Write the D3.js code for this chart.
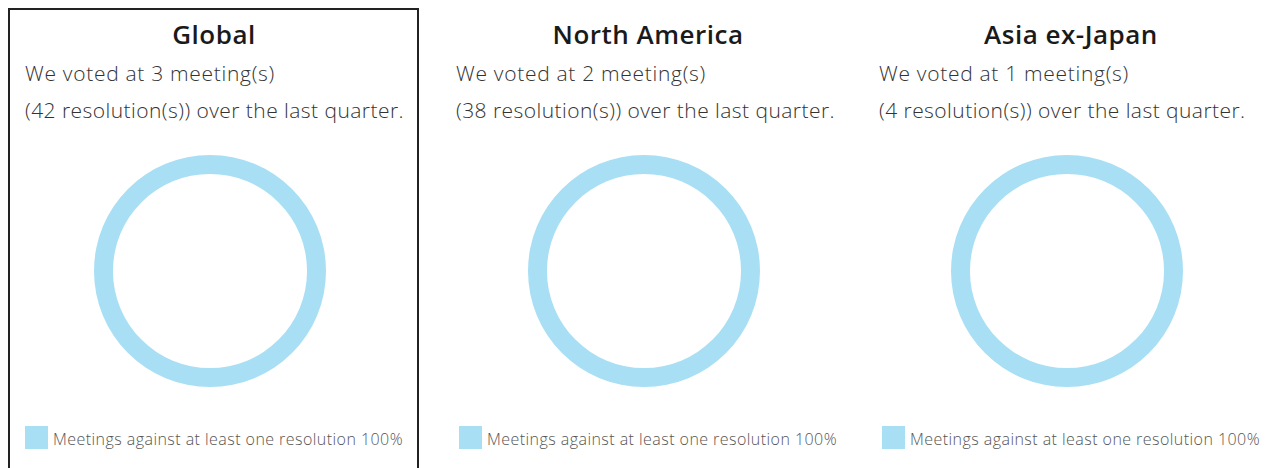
<!DOCTYPE html>
<html>
<head>
<meta charset="utf-8">
<script src="https://cdn.jsdelivr.net/npm/d3@7"></script>
<style>
  html, body { margin: 0; padding: 0; background: #fff; }
  svg { display: block; }
</style>
</head>
<body>
<div id="chart"></div>
<script>
// data
const regions = ["Global", "North America", "Asia ex-Japan"];
const meetings = [3, 2, 1];
const resolutions = [42, 38, 4];
const againstPct = [100, 100, 100];
const legendLabel = "Meetings against at least one resolution";

const width = 1276, height = 468;
const ringColor = "#a8dff4";
const font = "'Open Sans', Lato, sans-serif";

// panel left edges (layout)
const panelX = [0, 431, 854];

const svg = d3.select("#chart").append("svg")
    .attr("width", width)
    .attr("height", height);

// border around the selected (Global) panel
svg.append("path")
    .attr("d", "M9,470 V9 H418 V470")
    .attr("fill", "none")
    .attr("stroke", "#222")
    .attr("stroke-width", 2);

const pie = d3.pie().sort(null).value(d => d);
const arc = d3.arc().innerRadius(97).outerRadius(116);

regions.forEach((name, i) => {
    const g = svg.append("g").attr("transform", "translate(" + panelX[i] + ",0)");
    const cx = i === 0 ? 210 : 213;

    g.append("text")
        .attr("x", cx + 4)
        .attr("y", 44)
        .attr("text-anchor", "middle")
        .style("font-family", font)
        .style("font-weight", 600)
        .style("font-size", "26px")
        .style("letter-spacing", "0.5px")
        .style("fill", "#1a1a1a")
        .text(name);

    g.append("text")
        .attr("x", 25)
        .attr("y", 81)
        .style("font-family", font)
        .style("font-weight", 300)
        .style("font-size", "21px")
        .style("letter-spacing", "0.7px")
        .style("fill", "#333")
        .text("We voted at " + meetings[i] + " meeting(s)");

    g.append("text")
        .attr("x", 25)
        .attr("y", 118)
        .style("font-family", font)
        .style("font-weight", 300)
        .style("font-size", "21px")
        .style("letter-spacing", "0.45px")
        .style("fill", "#333")
        .text("(" + resolutions[i] + " resolution(s)) over the last quarter.");

    const pct = againstPct[i];
    const slices = pie([pct, 100 - pct]);
    g.append("g")
        .attr("transform", "translate(" + cx + ",271)")
        .selectAll("path")
        .data(slices)
        .join("path")
        .attr("d", arc)
        .attr("fill", (d, j) => j === 0 ? ringColor : "#e6e6e6");

    const lx = i === 0 ? 25 : 28;
    g.append("rect")
        .attr("x", lx)
        .attr("y", 426)
        .attr("width", 23)
        .attr("height", 23)
        .attr("fill", ringColor);

    g.append("text")
        .attr("x", lx + 28)
        .attr("y", 445)
        .style("font-family", font)
        .style("font-weight", 300)
        .style("font-size", "16px")
        .style("letter-spacing", "0.45px")
        .style("fill", "#555")
        .text(legendLabel + " " + pct + "%");
});
</script>
</body>
</html>
